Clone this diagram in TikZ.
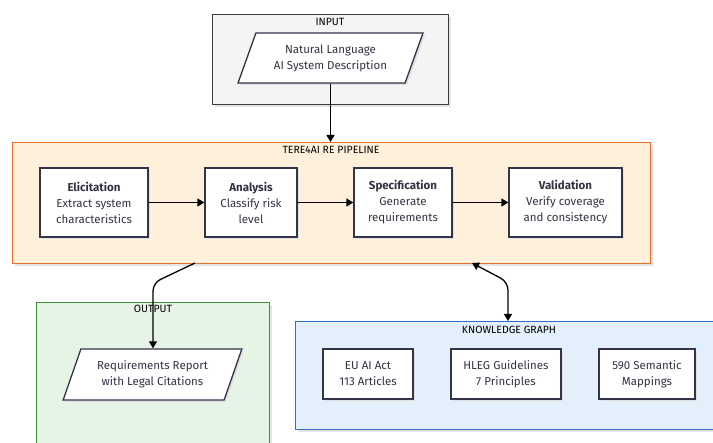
\documentclass[tikz,border=0pt]{standalone}
\usepackage{fontspec}
\setmainfont{Fira Sans}
\usetikzlibrary{arrows.meta,shapes.geometric,shadows}
\definecolor{inpfill}{HTML}{F4F4F4}
\definecolor{inpdraw}{HTML}{3A3A3A}
\definecolor{pipefill}{HTML}{FFF0DC}
\definecolor{pipedraw}{HTML}{E8702A}
\definecolor{outfill}{HTML}{E6F4E6}
\definecolor{outdraw}{HTML}{3F8F3F}
\definecolor{kgfill}{HTML}{E3F0FC}
\definecolor{kgdraw}{HTML}{2F6FC4}
\definecolor{boxdraw}{HTML}{33334A}
\definecolor{txt}{HTML}{333344}
\tikzset{
  cluster/.style={rectangle, draw, line width=1.3pt, anchor=north west, inner sep=0pt,
    drop shadow={shadow xshift=2.5pt, shadow yshift=-2.5pt, fill=black!10, opacity=1}},
  ctitle/.style={font=\fontsize{10.5}{12}\selectfont, text=black, inner sep=0pt},
  stepbox/.style={rectangle, draw=boxdraw, line width=1.3pt, fill=white, align=center,
    text=txt, font=\fontsize{11.5}{16}\selectfont, inner sep=0pt,
    drop shadow={shadow xshift=2pt, shadow yshift=-2pt, fill=black!12, opacity=1}},
  iobox/.style={trapezium, trapezium left angle=63.4, trapezium right angle=116.6,
    trapezium stretches=true, draw=boxdraw, line width=1.3pt, fill=white, align=center,
    text=txt, font=\fontsize{11.5}{16}\selectfont, inner sep=0pt,
    drop shadow={shadow xshift=2pt, shadow yshift=-2pt, fill=black!12, opacity=1}},
  arr/.style={-{Triangle[width=8pt,length=7pt]}, line width=1.3pt, black},
  biarr/.style={{Triangle[width=8pt,length=7pt]}-{Triangle[width=8pt,length=7pt]}, line width=1.3pt, black},
}
\begin{document}
\begin{tikzpicture}[x=1pt,y=-1pt]
\useasboundingbox (0,0) rectangle (713,443);
\clip (0,0) rectangle (713,443);

% clusters
\node[cluster, fill=inpfill, draw=inpdraw, minimum width=236pt, minimum height=90pt] (input) at (212,14) {};
\node[ctitle] (inputt) at (330,22) {INPUT};
\node[cluster, fill=pipefill, draw=pipedraw, minimum width=638pt, minimum height=121pt] (pipe) at (12,142) {};
\node[ctitle] (pipet) at (331,150) {TERE4AI RE PIPELINE};
\node[cluster, fill=outfill, draw=outdraw, minimum width=233pt, minimum height=160pt] (output) at (36,302) {};
\node[ctitle] (outputt) at (153,309) {OUTPUT};
\node[cluster, fill=kgfill, draw=kgdraw, minimum width=440pt, minimum height=108pt] (kg) at (295,321) {};
\node[ctitle] (kgt) at (509,330) {KNOWLEDGE GRAPH};

% input / output
\node[iobox, minimum width=185pt, minimum height=50pt] (desc) at (330.5,58) {Natural Language\\AI System Description};
\node[iobox, minimum width=179pt, minimum height=51pt] (report) at (152.5,374.5) {Requirements Report\\with Legal Citations};

% pipeline steps
\node[stepbox, minimum width=108pt, minimum height=69pt] (elic) at (94,202.5) {\textbf{Elicitation}\\Extract system\\characteristics};
\node[stepbox, minimum width=92pt, minimum height=69pt] (anal) at (251,202.5) {\textbf{Analysis}\\Classify risk\\level};
\node[stepbox, minimum width=98pt, minimum height=69pt] (spec) at (403,202.5) {\textbf{Specification}\\Generate\\requirements};
\node[stepbox, minimum width=113pt, minimum height=69pt] (vali) at (565.5,202.5) {\textbf{Validation}\\Verify coverage\\and consistency};

% knowledge graph items
\node[stepbox, minimum width=90pt, minimum height=50pt] (act) at (368,374) {EU AI Act\\113 Articles};
\node[stepbox, minimum width=110pt, minimum height=50pt] (hleg) at (506,374) {HLEG Guidelines\\7 Principles};
\node[stepbox, minimum width=96pt, minimum height=50pt] (maps) at (647,374) {590 Semantic\\Mappings};

% connectors
\draw[arr] (desc.south) -- (desc.south |- pipe.north);
\draw[arr] (elic) -- (anal);
\draw[arr] (anal) -- (spec);
\draw[arr] (spec) -- (vali);
\coordinate (pout) at (195,263);
\coordinate (bend1) at (153,283);
\draw[arr, rounded corners=8pt] (pout) -- (bend1) -- (report.north -| bend1);
\coordinate (pkg) at (472,263);
\coordinate (bend2) at (508,282);
\draw[biarr, rounded corners=8pt] (pkg) -- (bend2) -- (bend2 |- kg.north);
\end{tikzpicture}
\end{document}
